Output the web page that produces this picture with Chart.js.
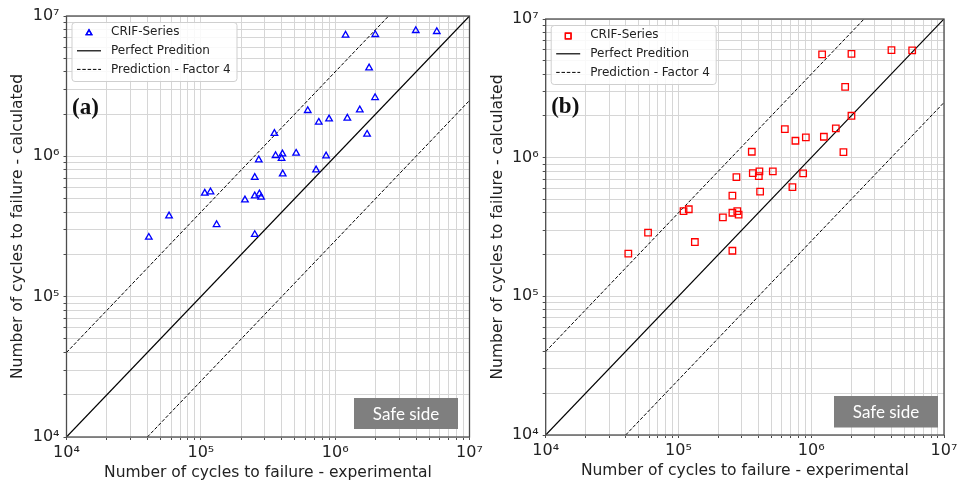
<!DOCTYPE html>
<html>
<head>
<meta charset="utf-8">
<script src="https://cdn.jsdelivr.net/npm/chart.js@4.4.1/dist/chart.umd.min.js"></script>
<style>
    html, body { margin: 0; padding: 0; background: #fff; }
    #wrap { position: relative; width: 957px; height: 483px; overflow: hidden; }
    canvas { position: absolute; top: 0; }
    #chartA { left: 0; }
    #chartB { left: 478px; }
</style>
</head>
<body>
<div id="wrap">
    <canvas id="chartA" width="500" height="483"></canvas>
    <canvas id="chartB" width="479" height="483"></canvas>
</div>
<script>
// experimental vs calculated cycles
const expA  = [41000, 58000, 107000, 118000, 131000, 213000, 252000, 252000, 273000, 281000, 252000, 270000, 353000, 360000, 399000, 405000, 407000, 512000, 625000, 755000, 721000, 856000, 901000, 1232000, 1525000, 1728000, 1789000, 1982000, 1195000, 1989000, 3982000, 5708000];
const calcA = [265000, 376000, 546000, 558000, 326000, 489000, 707000, 522000, 540000, 511000, 277000, 943000, 1456000, 1012000, 966000, 1040000, 749000, 1052000, 2117000, 1750000, 800000, 1007000, 1848000, 1869000, 2141000, 1437000, 4266000, 2620000, 7298000, 7370000, 7868000, 7741000];

const expB  = [41900, 59000, 109200, 119600, 132900, 216100, 254800, 254800, 277400, 283800, 254800, 273200, 356700, 363000, 407100, 402900, 412100, 513600, 632600, 760300, 721700, 869000, 910800, 1245000, 1532000, 1748000, 1801000, 2009000, 1208000, 2009000, 4021000, 5760000];
const calcB = [203500, 288400, 412100, 424600, 246400, 371200, 533000, 400600, 412100, 388900, 213200, 724600, 1103000, 774400, 796500, 736700, 569600, 796500, 1608000, 1324000, 613800, 770500, 1401000, 1415000, 1627000, 1097000, 3245000, 2005000, 5557000, 5612000, 5967000, 5937000];

// reference lines
const perfectX = [1e4, 1e7];
const perfectY = [1e4, 1e7];
const upperX = [1e4, 2.5e6];
const upperY = [4e4, 1e7];
const lowerX = [4e4, 1e7];
const lowerY = [1e4, 2.5e6];

// axis ticks
const decades = [1e4, 1e5, 1e6, 1e7];
const decadeLabels = ['10⁴', '10⁵', '10⁶', '10⁷'];
const minorSteps = [2, 3, 4, 5, 6, 7, 8, 9];

const seriesLabel = 'CRIF-Series';
const perfectLabel = 'Perfect Predition';
const factorLabel = 'Prediction - Factor 4';
const xTitle = 'Number of cycles to failure - experimental';
const yTitle = 'Number of cycles to failure - calculated';
const safeText = 'Safe side';

const gridValues = [];
decades.forEach(function (d, i) {
    gridValues.push(d);
    if (i < decades.length - 1) {
        minorSteps.forEach(function (m) { gridValues.push(d * m); });
    }
});

function toPoints(xs, ys) {
    return xs.map(function (x, i) { return { x: x, y: ys[i] }; });
}

const panelDecor = {
    id: 'panelDecor',
    afterDatasetsDraw(chart, args, opts) {
        const ctx = chart.ctx;
        const a = chart.chartArea;
        const ds = chart.data.datasets;
        ctx.save();

        // legend box
        const bx = a.left + 5.5, by = a.top + 6.5, bw = 165, bh = 59;
        ctx.beginPath();
        ctx.roundRect(bx, by, bw, bh, 3);
        ctx.fillStyle = 'rgba(255,255,255,0.85)';
        ctx.fill();
        ctx.strokeStyle = '#cfcfcf';
        ctx.lineWidth = 1;
        ctx.stroke();

        const rows = [a.top + 16.3, a.top + 34.8, a.top + 53.4];
        const hx0 = a.left + 10.5, hx1 = a.left + 34.5;
        ctx.font = '12px "DejaVu Sans"';
        ctx.textBaseline = 'middle';
        ctx.textAlign = 'left';
        [ds[0], ds[1], ds[2]].forEach(function (d, i) {
            const y = rows[i];
            if (i === 0) {
                Chart.helpers.drawPoint(ctx, {
                    pointStyle: d.pointStyle, radius: d.pointRadius - 0.6, borderWidth: d.borderWidth
                }, (hx0 + hx1) / 2, y + 0.8);
                ctx.strokeStyle = d.borderColor;
                ctx.lineWidth = d.borderWidth;
                ctx.setLineDash([]);
                ctx.beginPath();
                Chart.helpers.drawPoint(ctx, {
                    pointStyle: d.pointStyle, radius: d.pointRadius - 0.6, borderWidth: d.borderWidth
                }, (hx0 + hx1) / 2, y + 0.8);
                ctx.stroke();
            } else {
                ctx.strokeStyle = d.borderColor;
                ctx.lineWidth = d.borderWidth;
                ctx.setLineDash(d.borderDash || []);
                ctx.beginPath();
                ctx.moveTo(hx0, y);
                ctx.lineTo(hx1, y);
                ctx.stroke();
            }
            ctx.setLineDash([]);
            ctx.fillStyle = '#222';
            ctx.fillText(d.label, a.left + 44.5, y);
        });

        // panel letter
        ctx.font = 'bold 23px "Liberation Serif"';
        ctx.fillStyle = '#111';
        ctx.fillText(opts.letter, a.left + 5.5, a.top + opts.letterY);

        // safe side box
        const s = opts.safe;
        ctx.fillStyle = '#7f7f7f';
        ctx.fillRect(s.x, s.y, s.w, s.h);
        ctx.fillStyle = '#fff';
        ctx.font = '17px Lato';
        ctx.textAlign = 'center';
        ctx.fillText(safeText, s.x + s.w / 2, s.y + s.h / 2 + 1);

        // frame
        ctx.strokeStyle = '#4d4d4d';
        ctx.lineWidth = 1.3;
        ctx.strokeRect(a.left, a.top, a.right - a.left, a.bottom - a.top);
        ctx.restore();
    }
};

function logAxis(title, size, titlePad, isX) {
    return {
        type: 'logarithmic',
        min: 1e4,
        max: 1e7,
        afterBuildTicks: function (scale) {
            scale.ticks = gridValues.map(function (v) {
                return { value: v, major: decades.indexOf(v) >= 0 };
            });
        },
        afterFit: function (scale) {
            if (isX) {
                scale.height = size;
                scale.paddingLeft = 0;
                scale.paddingRight = 0;
            } else {
                scale.width = size;
                scale.paddingTop = 0;
                scale.paddingBottom = 0;
            }
        },
        ticks: {
            autoSkip: false,
            maxRotation: 0,
            minRotation: 0,
            padding: isX ? 3.5 : 4,
            color: '#222',
            font: { family: 'DejaVu Sans', size: 16 },
            callback: function (value) {
                const i = decades.indexOf(value);
                return i >= 0 ? decadeLabels[i] : '';
            }
        },
        grid: {
            color: '#d6d6d6',
            lineWidth: 1,
            tickLength: 3,
            tickColor: '#4d4d4d',
            drawTicks: true
        },
        border: { display: false },
        title: {
            display: true,
            text: title,
            color: '#222',
            font: { family: 'DejaVu Sans', size: 15.5 },
            padding: isX ? { top: 0, bottom: titlePad } : { top: titlePad, bottom: 0 }
        }
    };
}

function renderPanel(canvasId, p) {
    new Chart(document.getElementById(canvasId), {
        type: 'scatter',
        data: {
            datasets: [{
                label: seriesLabel,
                data: toPoints(p.xs, p.ys),
                pointStyle: p.marker,
                pointRadius: p.radius,
                borderColor: p.color,
                backgroundColor: 'rgba(255,255,255,0)',
                borderWidth: 1.3,
                order: 0
            }, {
                label: perfectLabel,
                data: toPoints(perfectX, perfectY),
                showLine: true,
                pointRadius: 0,
                borderColor: '#000',
                borderWidth: 1.2,
                order: 1
            }, {
                label: factorLabel,
                data: toPoints(upperX, upperY),
                showLine: true,
                pointRadius: 0,
                borderColor: '#000',
                borderWidth: 1,
                borderDash: [3.5, 1.8],
                order: 2
            }, {
                label: factorLabel,
                data: toPoints(lowerX, lowerY),
                showLine: true,
                pointRadius: 0,
                borderColor: '#000',
                borderWidth: 1,
                borderDash: [3.5, 1.8],
                order: 3
            }]
        },
        options: {
            responsive: false,
            animation: false,
            events: [],
            layout: { padding: p.padding },
            scales: {
                x: logAxis(xTitle, p.xHeight, p.xTitlePad, true),
                y: logAxis(yTitle, p.yWidth, p.yTitlePad, false)
            },
            plugins: {
                legend: { display: false },
                tooltip: { enabled: false },
                panelDecor: { letter: p.letter, letterY: p.letterY, safe: p.safe }
            }
        },
        plugins: [panelDecor]
    });
}

renderPanel('chartA', {
    xs: expA, ys: calcA, marker: 'triangle', radius: 3.8, color: '#0000ff',
    letter: '(a)', letterY: 92,
    padding: { left: 0, top: 16, right: 30.5, bottom: 0 },
    xHeight: 46, yWidth: 66.5, xTitlePad: 0.5, yTitlePad: 8.7,
    safe: { x: 354, y: 398, w: 104, h: 31 }
});

renderPanel('chartB', {
    xs: expB, ys: calcB, marker: 'rect', radius: 4.6, color: '#ff0000',
    letter: '(b)', letterY: 88,
    padding: { left: 0, top: 19, right: 13, bottom: 0 },
    xHeight: 48, yWidth: 67.7, xTitlePad: 2.5, yTitlePad: 10.7,
    safe: { x: 356, y: 396, w: 104, h: 31.5 }
});
</script>
</body>
</html>
